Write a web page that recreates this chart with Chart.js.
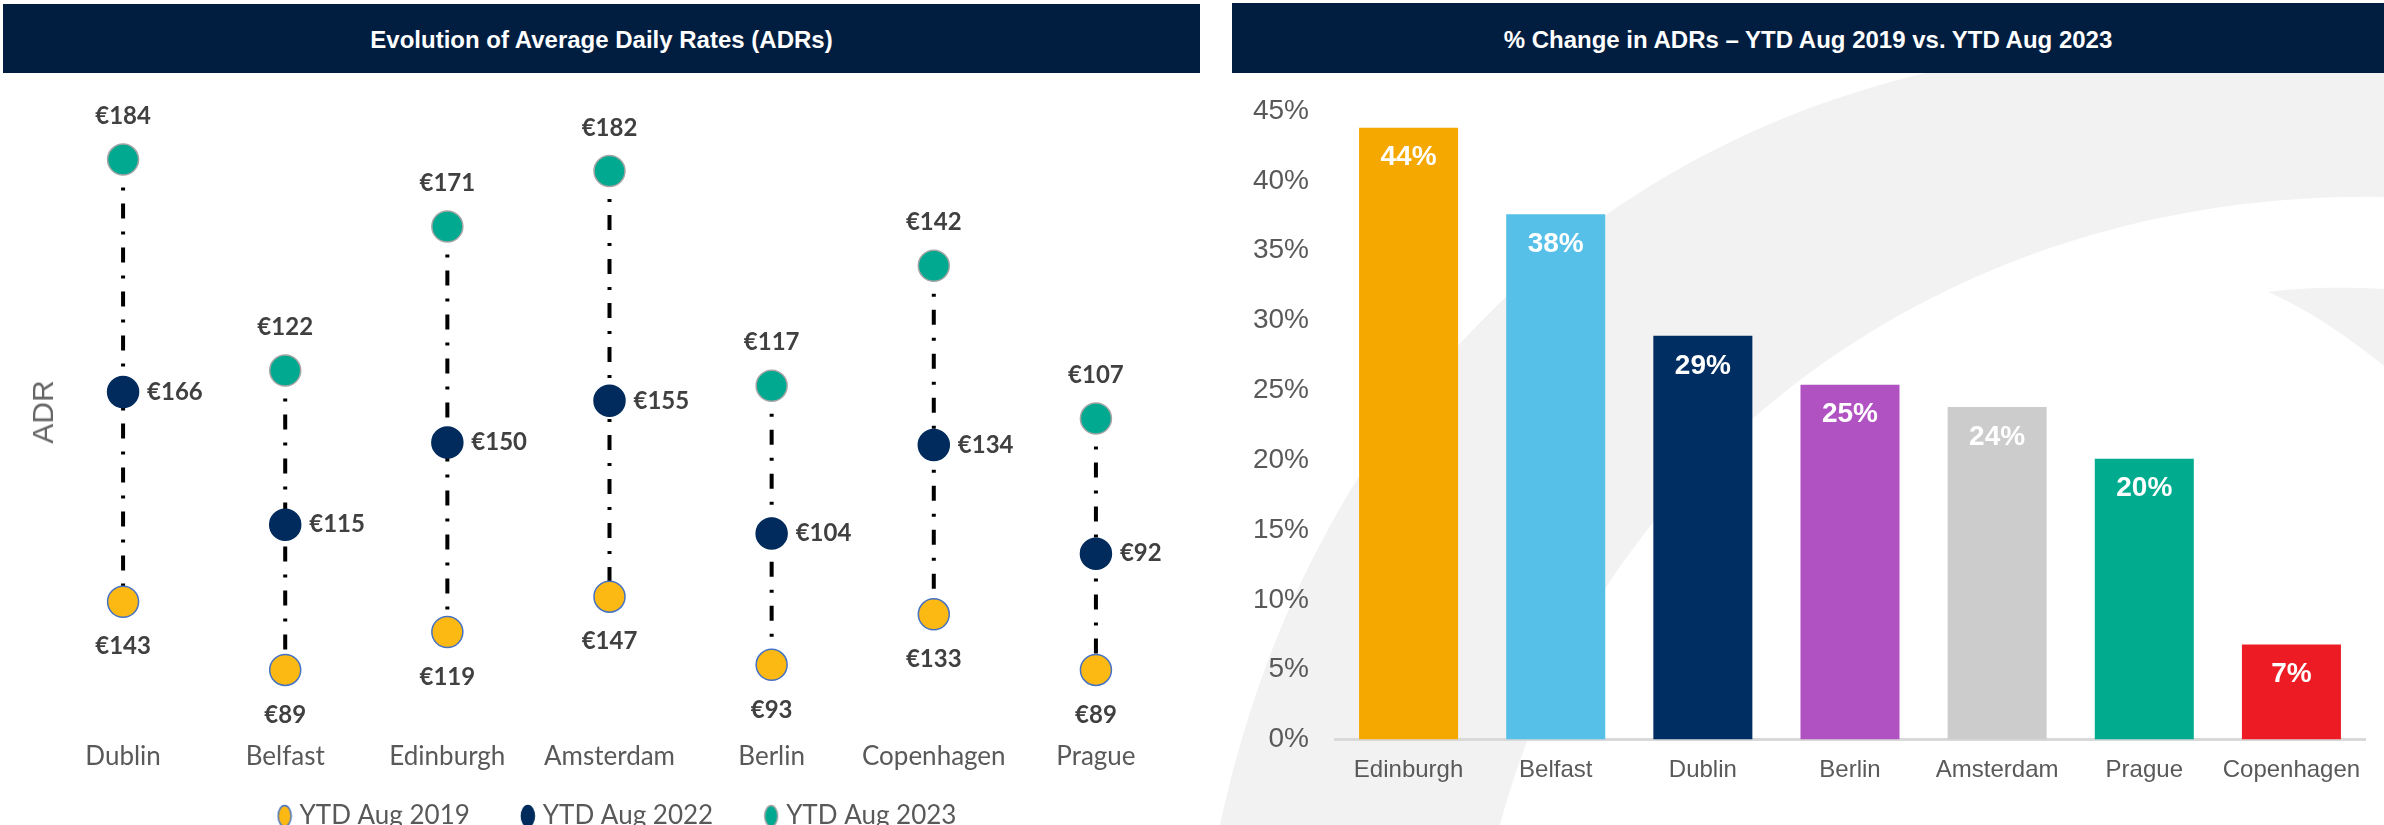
<!DOCTYPE html>
<html>
<head>
<meta charset="utf-8">
<script src="https://cdn.jsdelivr.net/npm/chart.js@4.4.1/dist/chart.umd.min.js"></script>
<style>
  html, body { margin: 0; padding: 0; background: #fff; }
  body { width: 2384px; height: 825px; overflow: hidden; position: relative; }
  .hdr {
    position: absolute; background: #011E41; color: #fff; z-index: 2;
    font: bold 24px "Liberation Sans", Arial, sans-serif;
    display: flex; align-items: center; justify-content: center;
    box-sizing: border-box; padding-top: 3px;
  }
  #hdrL { left: 3px; top: 4px; width: 1197px; height: 69px; }
  #hdrR { left: 1232px; top: 3px; width: 1152px; height: 70px; }
  #wm { position: absolute; left: 0; top: 0; z-index: 0; }
  .wrap { position: absolute; z-index: 1; }
  #wrapL { left: 0; top: 73px; }
  #wrapR { left: 1232px; top: 73px; }
  #adr {
    position: absolute; left: 43px; top: 412px; z-index: 2;
    transform: translate(-50%, -50%) rotate(-90deg);
    font: 30px "Liberation Sans", Arial, sans-serif; color: #666;
  }
</style>
</head>
<body>
<svg id="wm" width="2384" height="825">
  <path d="M 1220 825 C 1300 450 1550 160 1930 72 L 2384 72 L 2384 197 C 1950 190 1600 450 1500 825 Z" fill="#f2f2f2"/>
  <path d="M 2268 292 C 2300 287 2350 287 2384 289 L 2384 366 C 2345 334 2305 308 2268 292 Z" fill="#f2f2f2"/>
</svg>
<div class="hdr" id="hdrL">Evolution of Average Daily Rates (ADRs)</div>
<div class="hdr" id="hdrR">% Change in ADRs – YTD Aug 2019 vs. YTD Aug 2023</div>
<div id="adr">ADR</div>
<div class="wrap" id="wrapL"><canvas id="adrChart" width="1201" height="766"></canvas></div>
<div class="wrap" id="wrapR"><canvas id="changeChart" width="1152" height="752"></canvas></div>

<script>
// --- data: ADR evolution (left) ---
const cities = ['Dublin', 'Belfast', 'Edinburgh', 'Amsterdam', 'Berlin', 'Copenhagen', 'Prague'];
const adr2019 = [143, 89, 119, 147, 93, 133, 89];
const adr2022 = [166, 115, 150, 155, 104, 134, 92];
const adr2023 = [184, 122, 171, 182, 117, 142, 107];
const seriesNames = ['YTD Aug 2019', 'YTD Aug 2022', 'YTD Aug 2023'];

// --- data: % change 2019 -> 2023 (right) ---
const changeCities = ['Edinburgh', 'Belfast', 'Dublin', 'Berlin', 'Amsterdam', 'Prague', 'Copenhagen'];
const changePct = [43.8, 37.6, 28.9, 25.4, 23.8, 20.1, 6.8];
const pctTicks = { min: 0, max: 45, step: 5 };

const barColors = ['#F5A800', '#56C0E8', '#002D62', '#B152C3', '#CCCCCC', '#00AB8E', '#ED1C24'];
const dotFill = ['#FDB913', '#002B5C', '#00A98F'];
const dotLine = ['#4472C4', '#002B5C', '#A5A5A5'];

Chart.defaults.animation = false;

// small oval used as legend marker
function legendDot(fill, stroke) {
    const c = document.createElement('canvas');
    c.width = 16; c.height = 24;
    const g = c.getContext('2d');
    g.beginPath();
    g.ellipse(8, 12, 6.5, 10.5, 0, 0, Math.PI * 2);
    g.fillStyle = fill; g.fill();
    g.lineWidth = 1.5; g.strokeStyle = stroke; g.stroke();
    return c;
}
const legendDots = dotFill.map((f, i) => legendDot(f, dotLine[i]));

// dash-dot high-low line per city
const hiloLines = {
    id: 'hiloLines',
    beforeDatasetsDraw(chart) {
        const lo = chart.getDatasetMeta(0).data;
        const hi = chart.getDatasetMeta(2).data;
        const ctx = chart.ctx;
        ctx.save();
        ctx.strokeStyle = '#000';
        ctx.lineWidth = 4;
        ctx.setLineDash([15, 13, 3, 13]);
        hi.forEach((p, i) => {
            ctx.beginPath();
            ctx.moveTo(p.x, p.y);
            ctx.lineTo(lo[i].x, lo[i].y);
            ctx.stroke();
        });
        ctx.restore();
    }
};

// euro labels: 2019 below, 2022 right, 2023 above
const adrLabels = {
    id: 'adrLabels',
    afterDatasetsDraw(chart) {
        const ctx = chart.ctx;
        ctx.save();
        ctx.font = 'bold 24px Lato';
        ctx.fillStyle = '#404040';
        ctx.textBaseline = 'middle';
        chart.data.datasets.forEach((ds, di) => {
            chart.getDatasetMeta(di).data.forEach((pt, i) => {
                const txt = '€' + ds.data[i];
                if (di === 0) { ctx.textAlign = 'center'; ctx.fillText(txt, pt.x, pt.y + 45); }
                else if (di === 1) { ctx.textAlign = 'left'; ctx.fillText(txt, pt.x + 24, pt.y); }
                else { ctx.textAlign = 'center'; ctx.fillText(txt, pt.x, pt.y - 43); }
            });
        });
        ctx.restore();
    }
};

new Chart(document.getElementById('adrChart'), {
    type: 'line',
    data: {
        labels: cities,
        datasets: [adr2019, adr2022, adr2023].map((vals, i) => ({
            label: seriesNames[i],
            data: vals,
            showLine: false,
            pointRadius: 15.5,
            pointHoverRadius: 15.5,
            pointBorderWidth: 1.5,
            pointBackgroundColor: dotFill[i],
            pointBorderColor: dotLine[i],
            backgroundColor: dotFill[i],
            borderColor: dotLine[i],
            clip: false
        }))
    },
    options: {
        responsive: false,
        layout: { padding: { top: 52.5, left: 42, right: 4, bottom: 0 } },
        scales: {
            x: {
                offset: true,
                grid: { display: false, drawTicks: false },
                border: { display: false },
                ticks: { color: '#595959', font: { family: 'Lato', size: 26 }, padding: 9 },
                afterFit: s => { s.height = 54.2; }
            },
            // hidden value axis (kept on the right only to reserve a strip of space)
            y: {
                position: 'right', stacked: true, min: 40, max: 520,
                grid: { display: false, drawTicks: false },
                border: { display: false },
                ticks: { display: false },
                afterFit: s => { s.width = 20; }
            }
        },
        plugins: {
            tooltip: { enabled: false },
            legend: {
                position: 'bottom',
                labels: {
                    usePointStyle: true,
                    boxWidth: 4,
                    padding: 17,
                    color: '#595959',
                    font: { family: 'Lato', size: 26 },
                    // wider gap between entries, as in the source legend
                    generateLabels: chart => Chart.defaults.plugins.legend.labels.generateLabels(chart)
                        .map((item, i, all) => ({
                            ...item,
                            text: i < all.length - 1 ? item.text + '\u2003\u2003' : item.text,
                            pointStyle: legendDots[item.datasetIndex]
                        }))
                }
            }
        }
    },
    plugins: [hiloLines, adrLabels]
});

// white % labels inside the top of each bar
const barLabels = {
    id: 'barLabels',
    afterDatasetsDraw(chart) {
        const ctx = chart.ctx;
        ctx.save();
        ctx.font = 'bold 28px "Liberation Sans"';
        ctx.fillStyle = '#fff';
        ctx.textAlign = 'center';
        ctx.textBaseline = 'middle';
        chart.getDatasetMeta(0).data.forEach((bar, i) => {
            ctx.fillText(Math.round(changePct[i]) + '%', bar.x, bar.y + 30);
        });
        ctx.restore();
    }
};

new Chart(document.getElementById('changeChart'), {
    type: 'bar',
    data: {
        labels: changeCities,
        datasets: [{
            data: changePct,
            backgroundColor: barColors,
            barPercentage: 1,
            categoryPercentage: 0.673
        }]
    },
    options: {
        responsive: false,
        layout: { padding: { top: 38, left: 0, right: 19, bottom: 0 } },
        scales: {
            x: {
                grid: { display: false, drawTicks: false },
                border: { display: true, color: '#D9D9D9', width: 3 },
                ticks: { color: '#595959', font: { family: 'Liberation Sans', size: 24 }, padding: 16 },
                afterFit: s => { s.height = 85.5; }
            },
            y: {
                min: pctTicks.min, max: pctTicks.max,
                grid: { display: false, drawTicks: false },
                border: { display: false },
                ticks: {
                    stepSize: pctTicks.step,
                    color: '#595959',
                    font: { family: 'Liberation Sans', size: 28, lineHeight: 0.6 },
                    padding: 26,
                    callback: v => v + '%'
                },
                afterFit: s => { s.width = 103; }
            }
        },
        plugins: { legend: { display: false }, tooltip: { enabled: false } }
    },
    plugins: [barLabels]
});
</script>
</body>
</html>
